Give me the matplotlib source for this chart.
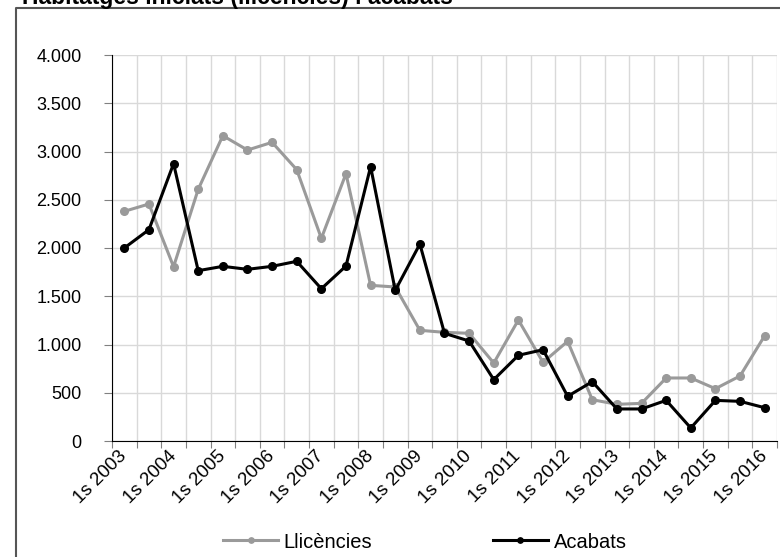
import matplotlib
matplotlib.use('Agg')
import matplotlib.pyplot as plt
from matplotlib.lines import Line2D
from matplotlib.ticker import FuncFormatter

plt.rcParams['font.family'] = ['Liberation Sans', 'DejaVu Sans']

# semesters 1s 2003 .. 1s 2016
years = list(range(2003, 2017))
periods = []
for y in years:
    periods.append('1s {}'.format(y))
    if y < 2016:
        periods.append('2s {}'.format(y))

llicencies = [2380, 2456, 1806, 2608, 3164, 3015, 3095, 2812, 2100, 2770,
              1613, 1596, 1147, 1126, 1116, 808, 1254, 815, 1033, 428,
              380, 390, 653, 653, 542, 674, 1091]
acabats = [2000, 2190, 2874, 1765, 1810, 1779, 1810, 1862, 1578, 1813,
           2843, 1561, 2041, 1116, 1036, 636, 888, 946, 463, 615,
           332, 332, 421, 135, 421, 411, 345]

grey = '#9a9a9a'
W, H = 780, 557
fig = plt.figure(figsize=(W / 100, H / 100), dpi=100)
ax = fig.add_axes([112 / W, 1 - 441 / H, (777 - 112) / W, (441 - 55) / H])

x = list(range(len(periods)))
ax.plot(x, llicencies, color=grey, lw=2.2, marker='o', ms=5.5, label='Llicències', zorder=3)
ax.plot(x, acabats, color='black', lw=2.2, marker='o', ms=5.5, label='Acabats', zorder=4)

ax.set_xlim(-0.5, len(periods) - 0.5)
ax.set_ylim(0, 4000)
ax.set_yticks(range(0, 4001, 500))
ax.yaxis.set_major_formatter(FuncFormatter(lambda v, p: '{:,.0f}'.format(v).replace(',', '.')))

# category boundaries carry ticks and grid, labels sit on every other category
ax.set_xticks([i - 0.5 for i in range(len(periods) + 1)])
ax.set_xticklabels([])
ax.set_xticks(x[::2], minor=True)
ax.set_xticklabels(periods[::2], minor=True, rotation=45, ha='right', fontsize=13.5,
                   rotation_mode='anchor', va='center')
ax.tick_params(axis='x', which='minor', length=0, pad=9)
ax.tick_params(axis='x', which='major', length=5, color='#808080', direction='out')
ax.tick_params(axis='y', length=6, color='#808080', labelsize=13, pad=16)

ax.grid(True, which='major', color='#d9d9d9', lw=1)
ax.set_axisbelow(True)
for s in ['top', 'right']:
    ax.spines[s].set_visible(False)
ax.spines['left'].set_color('black')
ax.spines['bottom'].set_color('black')

fig.legend(loc='center', bbox_to_anchor=(425 / W, 1 - 542 / H), ncol=2, frameon=False,
           fontsize=14.5, handlelength=2.7, columnspacing=6.0, handletextpad=0.3,
           markerscale=0.7)

# outer frame, only the top and left edges show
fig.add_artist(Line2D([16 / W, 16 / W, 1], [0, 1 - 8 / H, 1 - 8 / H],
                      transform=fig.transFigure, color='#555555', lw=1.5))
fig.text(22 / W, 1 - 4 / H, 'Habitatges iniciats (llicències) i acabats',
         fontsize=16.5, fontweight='bold', va='baseline', ha='left')

fig.savefig('out.png', dpi=100)
